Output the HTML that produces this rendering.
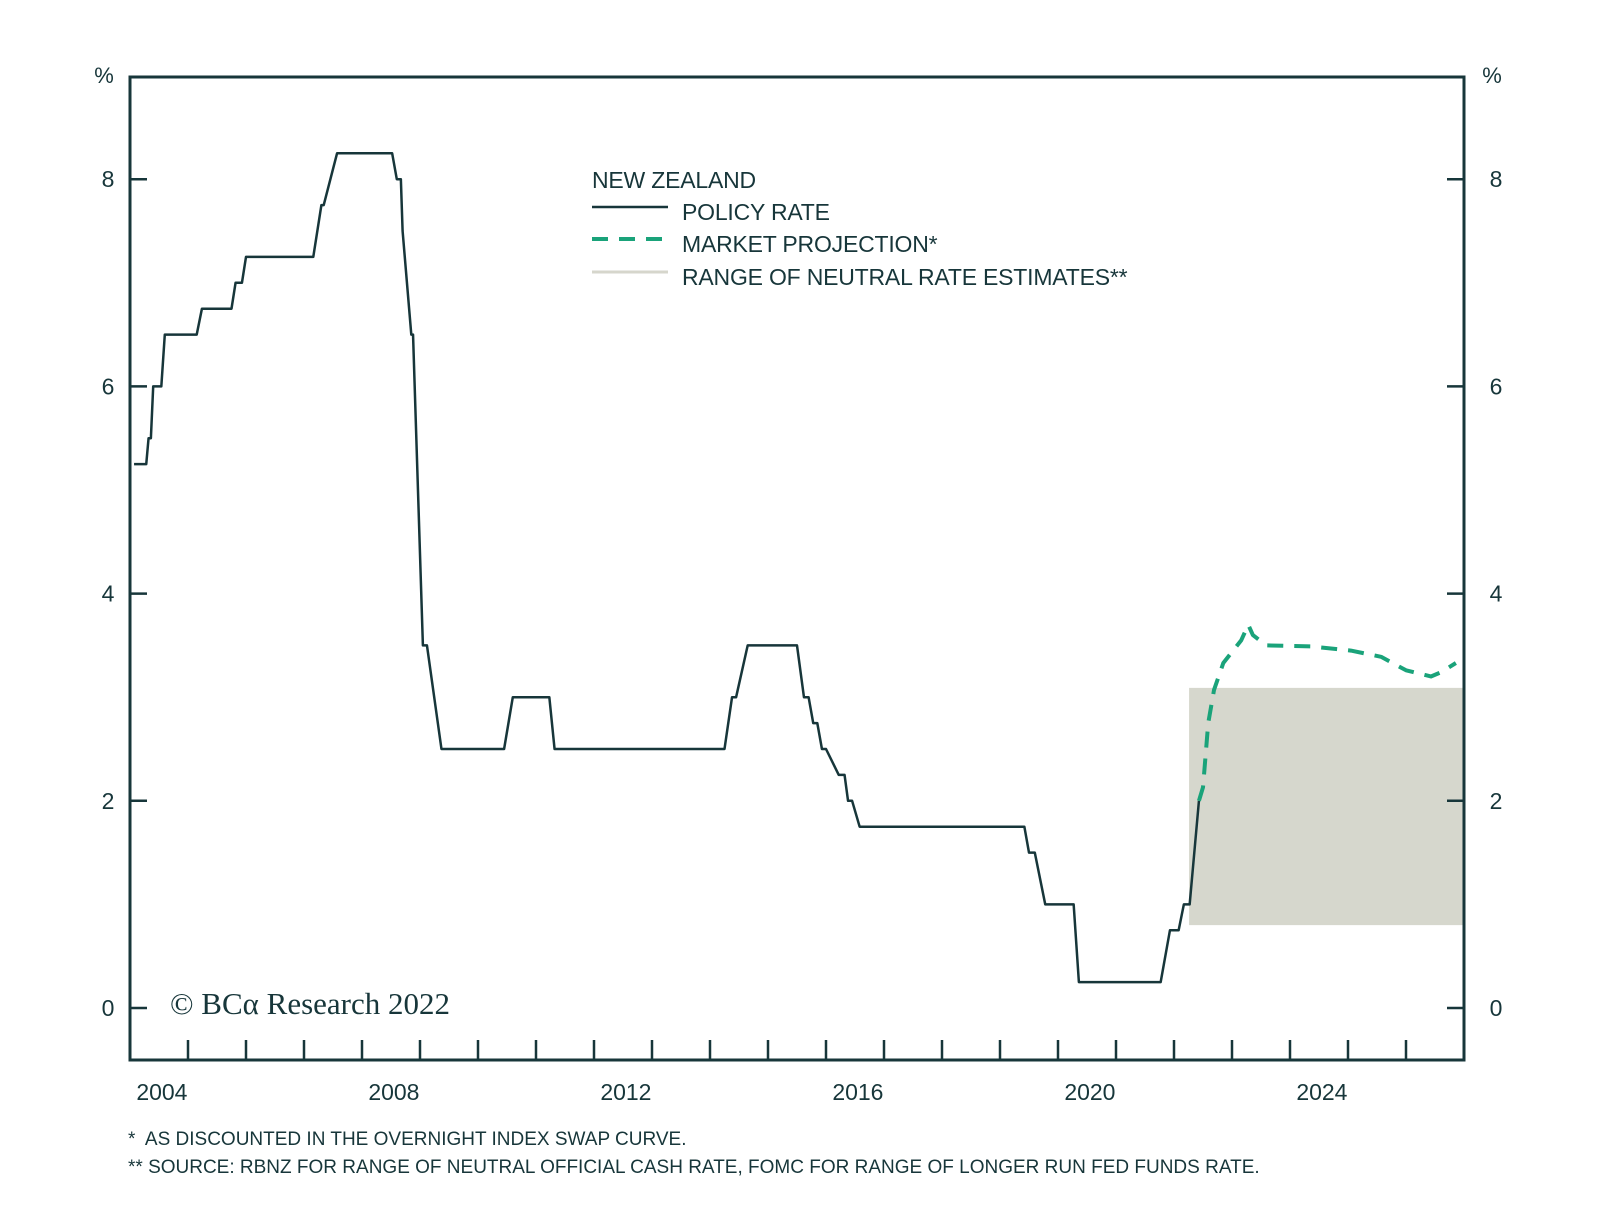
<!DOCTYPE html>
<html><head><meta charset="utf-8"><style>
body{margin:0;background:#fff;}
svg{display:block;font-family:"Liberation Sans",sans-serif;}
</style></head><body>
<svg id="chart" width="1600" height="1226" viewBox="0 0 1600 1226" xmlns="http://www.w3.org/2000/svg">
<rect width="1600" height="1226" fill="#fff"/>
<g id="plot"></g>
<g id="legend" fill="#17363a" font-size="23" letter-spacing="-0.2">
<text x="592" y="188">NEW ZEALAND</text>
<line x1="592" y1="207" x2="668" y2="207" stroke="#17363a" stroke-width="2.5"/>
<text x="682" y="220">POLICY RATE</text>
<line x1="592" y1="239" x2="668" y2="239" stroke="#1aa37a" stroke-width="4" stroke-dasharray="16,11"/>
<text x="682" y="252">MARKET PROJECTION*</text>
<line x1="592" y1="272" x2="668" y2="272" stroke="#d6d6cc" stroke-width="3"/>
<text x="682" y="285">RANGE OF NEUTRAL RATE ESTIMATES**</text>
</g>
<text x="170" y="1014" font-family="Liberation Serif,serif" font-size="31" fill="#17363a">© BCα Research 2022</text>
<g fill="#17363a" font-size="19" letter-spacing="0">
<text x="128" y="1145" xml:space="preserve">*  AS DISCOUNTED IN THE OVERNIGHT INDEX SWAP CURVE.</text>
<text x="128" y="1173">** SOURCE: RBNZ FOR RANGE OF NEUTRAL OFFICIAL CASH RATE, FOMC FOR RANGE OF LONGER RUN FED FUNDS RATE.</text>
</g>
</svg>
<script>
const policyT=[2004.07,2004.28,2004.32,2004.36,2004.4,2004.54,2004.6,2004.8,2005.15,2005.24,2005.75,2005.82,2005.93,2006.0,2007.16,2007.3,2007.34,2007.57,2008.52,2008.6,2008.67,2008.7,2008.85,2008.88,2009.05,2009.12,2009.37,2010.45,2010.6,2011.23,2011.32,2014.25,2014.38,2014.45,2014.65,2015.5,2015.62,2015.7,2015.78,2015.85,2015.93,2016.0,2016.22,2016.32,2016.38,2016.45,2016.58,2016.99,2019.42,2019.5,2019.6,2019.78,2020.27,2020.36,2021.77,2021.93,2022.08,2022.17,2022.27,2022.43];
const policyV=[5.25,5.25,5.5,5.5,6.0,6.0,6.5,6.5,6.5,6.75,6.75,7.0,7.0,7.25,7.25,7.75,7.75,8.25,8.25,8.0,8.0,7.5,6.5,6.5,3.5,3.5,2.5,2.5,3.0,3.0,2.5,2.5,3.0,3.0,3.5,3.5,3.0,3.0,2.75,2.75,2.5,2.5,2.25,2.25,2.0,2.0,1.75,1.75,1.75,1.5,1.5,1.0,1.0,0.25,0.25,0.75,0.75,1.0,1.0,2.0];
const projT=[2022.43,2022.5,2022.59,2022.69,2022.85,2023.16,2023.28,2023.36,2023.59,2024.36,2025.05,2025.57,2026.0,2026.43,2026.6,2026.86];
const projV=[2.0,2.13,2.75,3.07,3.33,3.55,3.7,3.6,3.5,3.49,3.45,3.39,3.26,3.2,3.24,3.33];
const rangeT=[2022.26,2027.0];
const rangeV=[0.8,3.09];
const yTicks=[0,2,4,6,8];
const xLabels=[2004,2008,2012,2016,2020,2024];
const xTicks=[2005,2006,2007,2008,2009,2010,2011,2012,2013,2014,2015,2016,2017,2018,2019,2020,2021,2022,2023,2024,2025,2026];

const L=130,R=1464,T=77,B=1060,C="#17363a",NS="http://www.w3.org/2000/svg";
const X=t=>L+(t-2004)*(R-L)/23;
const Y=v=>1008-v*103.6;
const g=document.getElementById('plot');
function mk(tag,a){const e=document.createElementNS(NS,tag);for(const k in a)e.setAttribute(k,a[k]);g.appendChild(e);return e;}

let e=mk('rect',{x:X(rangeT[0]),y:Y(rangeV[1]),width:X(rangeT[1])-X(rangeT[0]),height:Y(rangeV[0])-Y(rangeV[1]),fill:"#d6d7cd"});



e=mk('polyline',{points:policyT.map((t,i)=>X(t)+','+Y(policyV[i])).join(' '),fill:"none",stroke:C,"stroke-width":2.5,"stroke-linejoin":"round"});



e=mk('polyline',{points:projT.map((t,i)=>X(t)+','+Y(projV[i])).join(' '),fill:"none",stroke:"#1aa37a","stroke-width":4,"stroke-dasharray":"16,11","stroke-linejoin":"round"});



e=mk('rect',{x:L,y:T,width:R-L,height:B-T,fill:"none",stroke:C,"stroke-width":3});



yTicks.forEach(v=>{
  let a=mk('line',{x1:L,x2:L+17,y1:Y(v),y2:Y(v),stroke:C,"stroke-width":2.5});
  
  
  let b=mk('line',{x1:R-17,x2:R,y1:Y(v),y2:Y(v),stroke:C,"stroke-width":2.5});
  
  
  let t1=mk('text',{x:108,y:Y(v)+8,"text-anchor":"middle","font-size":23,fill:C});t1.textContent=v;
  
  
  let t2=mk('text',{x:1496,y:Y(v)+8,"text-anchor":"middle","font-size":23,fill:C});t2.textContent=v;
  
  
});
[[104,'left-y-unit'],[1492,'right-y-unit']].forEach(p=>{
  let t=mk('text',{x:p[0],y:83,"text-anchor":"middle","font-size":22,fill:C});t.textContent='%';
  
  
});
xTicks.forEach(yr=>{
  let a=mk('line',{x1:X(yr),x2:X(yr),y1:B,y2:B-20,stroke:C,"stroke-width":2.5});
  
  
});
xLabels.forEach(yr=>{
  let t=mk('text',{x:X(yr+0.55),y:1100,"text-anchor":"middle","font-size":23,fill:C,"letter-spacing":"0"});t.textContent=yr;
  
  
});
</script>
</body></html>
